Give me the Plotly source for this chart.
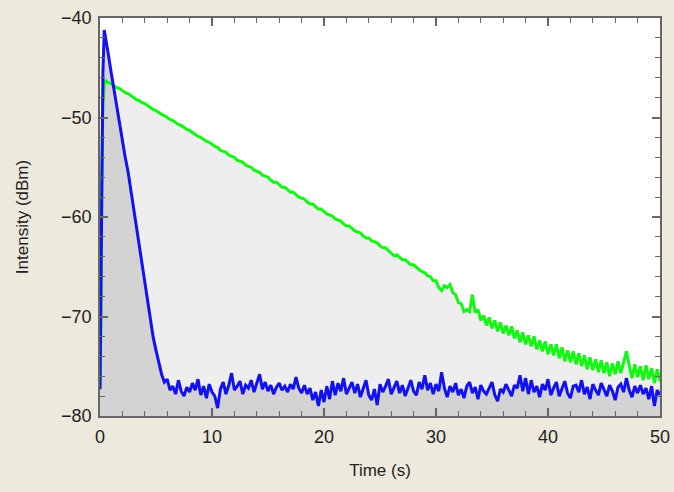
import plotly.graph_objects as go

# time axis (s): a few dense samples on the rising edge, then every 0.25 s
time_start = [0.0, 0.08, 0.16, 0.26, 0.38]
time_main = [round(0.5 + 0.25 * i, 2) for i in range(199)]
time = time_start + time_main

# green trace (dBm)
green = [
    -77.2, -71.0, -56.0, -48.5, -46.6,
    -46.3, -46.5, -46.6, -46.8, -47.0, -47.1, -47.3, -47.5,
    -47.6, -47.8, -48.0, -48.2, -48.3, -48.5, -48.6, -48.8,
    -49.0, -49.2, -49.3, -49.5, -49.7, -49.8, -50.0, -50.2,
    -50.3, -50.5, -50.7, -50.8, -51.0, -51.2, -51.3, -51.5,
    -51.7, -51.9, -52.0, -52.2, -52.4, -52.5, -52.7, -52.9,
    -53.0, -53.3, -53.4, -53.5, -53.8, -53.9, -54.0, -54.3,
    -54.4, -54.5, -54.8, -54.9, -55.0, -55.3, -55.4, -55.5,
    -55.8, -55.9, -56.0, -56.3, -56.5, -56.5, -56.8, -57.0,
    -57.0, -57.3, -57.5, -57.5, -57.8, -58.0, -58.1, -58.2,
    -58.5, -58.7, -58.7, -59.0, -59.2, -59.2, -59.5, -59.7,
    -59.8, -59.9, -60.2, -60.3, -60.4, -60.7, -60.9, -60.9,
    -61.2, -61.4, -61.5, -61.6, -61.9, -62.1, -62.1, -62.4,
    -62.5, -62.6, -62.9, -63.1, -63.1, -63.4, -63.6, -63.9,
    -63.8, -64.1, -64.3, -64.3, -64.6, -64.8, -64.8, -65.1,
    -65.3, -65.5, -65.6, -65.9, -66.0, -66.4, -66.4, -67.1,
    -67.4, -66.9, -67.1, -66.8, -67.6, -67.8, -68.6, -68.7,
    -69.5, -69.3, -69.5, -67.8, -69.6, -69.3, -70.4, -69.9,
    -70.9, -70.1, -71.2, -70.4, -71.5, -70.6, -71.7, -70.9,
    -71.9, -71.0, -72.2, -71.4, -72.6, -71.6, -72.8, -71.9,
    -73.0, -72.0, -73.3, -72.4, -73.5, -72.5, -73.8, -72.8,
    -73.9, -72.8, -74.2, -73.1, -74.5, -73.4, -74.6, -73.5,
    -74.8, -73.7, -75.0, -73.9, -75.3, -74.1, -75.4, -74.3,
    -75.6, -74.4, -75.7, -74.6, -76.0, -74.7, -75.8, -74.5,
    -75.7, -74.6, -73.5, -74.9, -76.2, -74.8, -76.1, -75.0,
    -76.4, -74.9, -76.3, -75.2, -76.7, -75.3, -76.5,
]

# blue trace (dBm)
blue = [
    -77.3, -66.0, -54.0, -45.5, -41.2,
    -41.9, -43.7, -45.5, -47.2, -49.1, -50.9, -52.6, -54.0,
    -55.4, -57.3, -59.1, -60.9, -62.9, -64.8, -66.7, -68.5,
    -70.2, -72.1, -73.4, -74.7, -75.8, -76.6, -76.3, -77.4,
    -77.0, -77.8, -76.4, -77.5, -78.0, -77.1, -77.6, -76.7,
    -77.4, -76.3, -77.9, -77.0, -78.2, -76.8, -77.6, -78.0,
    -79.2, -77.3, -76.6, -77.8, -76.9, -75.7, -77.4, -77.0,
    -76.5, -77.8, -76.9, -77.2, -76.4, -77.6, -76.8, -75.8,
    -77.3, -76.6, -77.5, -76.9, -77.8, -77.1, -76.7, -77.4,
    -77.0, -77.6, -76.8, -77.3, -76.1, -77.2, -77.7, -76.9,
    -77.8, -77.2, -78.4, -77.6, -79.0, -77.4, -78.6, -77.0,
    -78.3, -76.5, -77.9, -76.7, -77.5, -76.2, -77.8, -77.1,
    -76.6, -77.7, -76.8, -78.1, -77.2, -76.4, -77.9, -78.4,
    -77.3, -78.9, -76.8, -77.6, -77.0, -76.3, -77.8, -77.1,
    -76.5, -77.7, -76.9, -78.0, -77.2, -76.4, -77.5, -77.9,
    -76.6, -77.3, -75.9, -77.4, -76.7, -77.8, -76.8, -77.5,
    -75.6, -77.2, -78.1, -77.0, -77.6, -76.7, -77.9, -77.3,
    -78.2, -77.0, -76.6, -77.7, -77.1, -78.3, -76.9, -77.5,
    -77.8, -77.1, -76.6, -77.9, -78.5, -77.3, -77.6, -76.8,
    -77.4, -78.0, -76.9, -77.2, -75.9, -77.5, -76.2, -77.8,
    -76.4, -77.6, -77.0, -78.1, -76.8, -77.4, -76.3, -77.9,
    -77.2, -76.6, -78.0, -77.3, -76.5, -77.7, -78.2, -77.0,
    -76.9, -77.6, -76.4, -77.8, -77.1, -78.3, -76.8, -77.4,
    -77.9, -76.7, -77.3, -78.0, -76.9, -77.5, -78.4, -77.1,
    -76.8, -77.6, -76.2, -77.4, -78.1, -77.0, -77.7, -76.9,
    -77.8, -77.2, -78.3, -77.0, -79.0, -77.4, -77.9,
]

y_floor = -80
x_ticks = [0, 10, 20, 30, 40, 50]
y_ticks = [-80, -70, -60, -50, -40]

baseline = [y_floor] * len(time)

fig = go.Figure()
# fills
fig.add_trace(go.Scatter(x=time, y=baseline, mode="lines", line=dict(width=0),
                         hoverinfo="skip", showlegend=False))
fig.add_trace(go.Scatter(x=time, y=green, mode="lines", line=dict(width=0),
                         fill="tonexty", fillcolor="#EEEEEE", showlegend=False))
fig.add_trace(go.Scatter(x=time, y=baseline, mode="lines", line=dict(width=0),
                         hoverinfo="skip", showlegend=False))
fig.add_trace(go.Scatter(x=time, y=blue, mode="lines", line=dict(width=0),
                         fill="tonexty", fillcolor="#D3D3D3", showlegend=False))
# lines
fig.add_trace(go.Scatter(x=time, y=green, mode="lines",
                         line=dict(color="#12F812", width=3), showlegend=False))
fig.add_trace(go.Scatter(x=time, y=blue, mode="lines",
                         line=dict(color="#1212F0", width=3), showlegend=False))

fam = "Liberation Sans, Arial, sans-serif"
axis_font = dict(family=fam, size=18, color="#222222")
title_font = dict(family=fam, size=17, color="#222222")
fig.update_layout(
    width=674, height=492,
    margin=dict(l=100, r=14, t=18, b=76, autoexpand=False),
    paper_bgcolor="#EDE9DD",
    plot_bgcolor="#FFFFFF",
    font=dict(family=fam, color="#222222"),
    xaxis=dict(
        range=[0, 50], tickvals=x_ticks, ticks="inside", ticklen=8, tickwidth=1.5,
        tickcolor="#666666", showline=True, linecolor="#666666", linewidth=1.5,
        mirror="ticks", showgrid=False, zeroline=False, tickfont=axis_font,
        ticklabelstandoff=4, automargin=False,
        minor=dict(dtick=2, ticks="inside", ticklen=5, tickcolor="#666666", tickwidth=1),
        title=dict(text="Time (s)", font=title_font, standoff=18),
    ),
    yaxis=dict(
        range=[-80, -40], tickvals=y_ticks, ticks="inside", ticklen=8, tickwidth=1.5,
        tickcolor="#666666", showline=True, linecolor="#666666", linewidth=1.5,
        mirror="ticks", showgrid=False, zeroline=False, tickfont=axis_font,
        ticklabelstandoff=3, automargin=False,
        minor=dict(dtick=2, ticks="inside", ticklen=5, tickcolor="#666666", tickwidth=1),
        title=dict(text="Intensity (dBm)", font=title_font, standoff=28),
    ),
)

fig.write_html(
    "out.html",
    config={"displayModeBar": False},
    post_script="document.body.style.margin='0';document.body.style.overflow='hidden';",
)
